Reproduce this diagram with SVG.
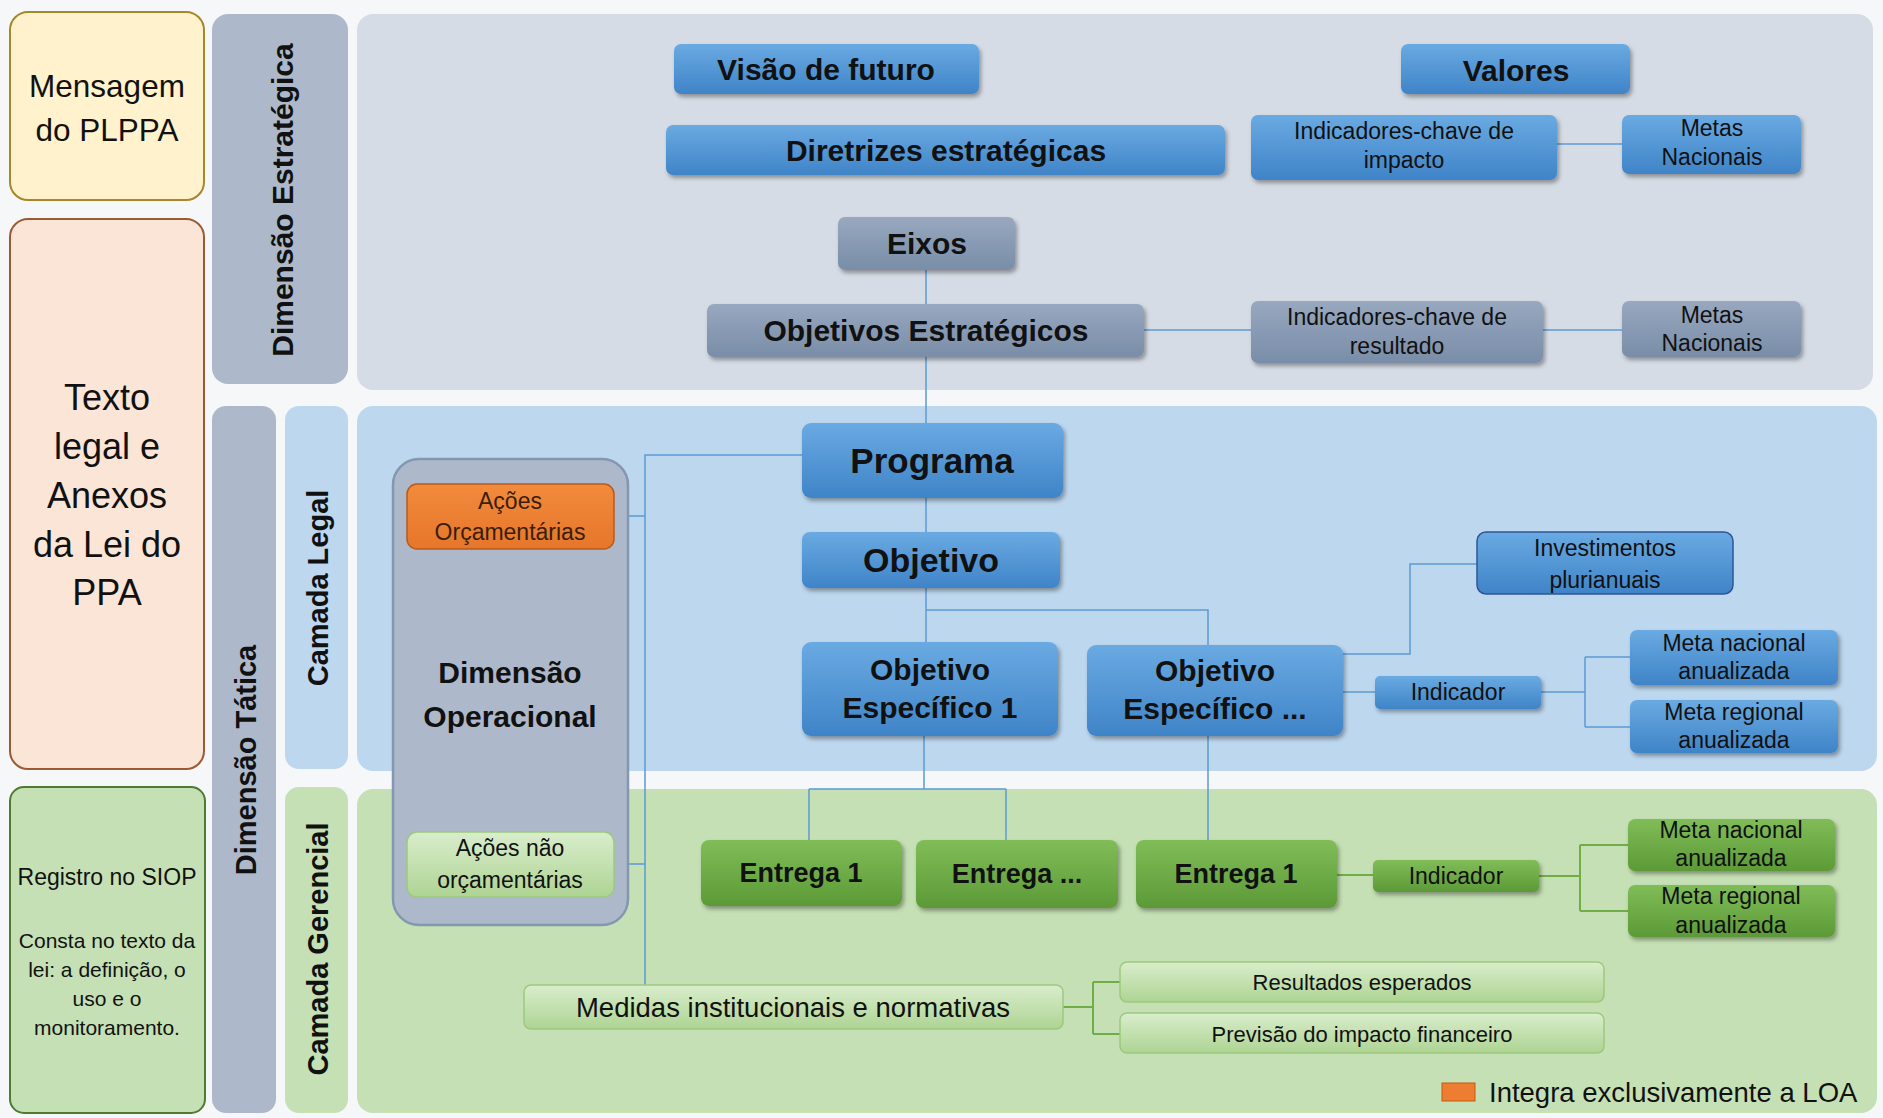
<svg xmlns="http://www.w3.org/2000/svg" width="1883" height="1118" viewBox="0 0 1883 1118">
<defs>
<linearGradient id="gBlue" x1="0" y1="0" x2="0" y2="1"><stop offset="0" stop-color="#6AAAE2"/><stop offset="1" stop-color="#3F84C8"/></linearGradient>
<linearGradient id="gGray" x1="0" y1="0" x2="0" y2="1"><stop offset="0" stop-color="#97A8BF"/><stop offset="1" stop-color="#7A8DA8"/></linearGradient>
<linearGradient id="gGreen" x1="0" y1="0" x2="0" y2="1"><stop offset="0" stop-color="#80BD58"/><stop offset="1" stop-color="#5C9A37"/></linearGradient>
<linearGradient id="gLGreen" x1="0" y1="0" x2="0" y2="1"><stop offset="0" stop-color="#D9EDCC"/><stop offset="1" stop-color="#AED493"/></linearGradient>
<linearGradient id="gOrange" x1="0" y1="0" x2="0" y2="1"><stop offset="0" stop-color="#F28A3C"/><stop offset="1" stop-color="#E6762A"/></linearGradient>
<filter id="sh" x="-10%" y="-20%" width="120%" height="150%"><feDropShadow dx="2" dy="3" stdDeviation="2" flood-color="#000" flood-opacity="0.35"/></filter>
<style>
text{font-family:"Liberation Sans",Arial,sans-serif;fill:#111;text-anchor:middle;dominant-baseline:central}
.b{font-weight:bold}
.blue{fill:url(#gBlue);filter:url(#sh)}
.gray{fill:url(#gGray);filter:url(#sh)}
.green{fill:url(#gGreen);filter:url(#sh)}
.lgreen{fill:url(#gLGreen);stroke:#9CC97F;stroke-width:1.5}
.cb{fill:none;stroke:#5B9BD5;stroke-width:1.5}
.cg{fill:none;stroke:#70AD47;stroke-width:2}
</style>
</defs>
<rect x="0" y="0" width="1883" height="1118" fill="#F6F7F8"/>

<!-- Left column -->
<g id="mensagem">
<rect x="10" y="12" width="194" height="188" rx="18" fill="#FFF2CC" stroke="#A8862A" stroke-width="2"/>
<text x="107" y="86" font-size="31.5">Mensagem</text>
<text x="107" y="130" font-size="31.5">do PLPPA</text>
</g>
<g id="texto-legal">
<rect x="10" y="219" width="194" height="550" rx="18" fill="#FBE5D6" stroke="#9C5A32" stroke-width="2"/>
<text x="107" y="397" font-size="36">Texto</text>
<text x="107" y="446" font-size="36">legal e</text>
<text x="107" y="495" font-size="36">Anexos</text>
<text x="107" y="544" font-size="36">da Lei do</text>
<text x="107" y="592" font-size="36">PPA</text>
</g>
<g id="registro-siop">
<rect x="10" y="787" width="195" height="326" rx="14" fill="#C5E0B4" stroke="#4E7A34" stroke-width="2"/>
<text x="107" y="877" font-size="23">Registro no SIOP</text>
<text x="107" y="940" font-size="21">Consta no texto da</text>
<text x="107" y="969" font-size="21">lei: a definição, o</text>
<text x="107" y="998" font-size="21">uso e o</text>
<text x="107" y="1027" font-size="21">monitoramento.</text>
</g>

<!-- Bands and panels -->
<g id="dim-estrategica">
<rect x="212" y="14" width="136" height="370" rx="16" fill="#ADB9CA"/>
<text class="b" font-size="30" transform="translate(282 200) rotate(-90)">Dimensão Estratégica</text>
</g>
<g id="painel-estrategico"><rect x="357" y="14" width="1516" height="376" rx="16" fill="#D6DCE5"/></g>
<g id="dim-tatica">
<rect x="212" y="406" width="64" height="707" rx="14" fill="#ADB9CA"/>
<text class="b" font-size="29" transform="translate(246 760) rotate(-90)">Dimensão Tática</text>
</g>
<g id="camada-legal">
<rect x="285" y="406" width="63" height="363" rx="14" fill="#BDD7EE"/>
<text class="b" font-size="29" transform="translate(318 588) rotate(-90)">Camada Legal</text>
</g>
<g id="painel-legal"><rect x="357" y="406" width="1520" height="365" rx="16" fill="#BDD7EE"/></g>
<g id="camada-gerencial">
<rect x="285" y="787" width="63" height="326" rx="14" fill="#C5E0B4"/>
<text class="b" font-size="29" transform="translate(318 949) rotate(-90)">Camada Gerencial</text>
</g>
<g id="painel-gerencial"><rect x="357" y="789" width="1520" height="324" rx="16" fill="#C5E0B4"/></g>

<!-- Connectors -->
<g id="connectors">
<path class="cb" d="M1557 144H1622"/>
<path class="cb" d="M926 270V304"/>
<path class="cb" d="M1144 330H1251M1543 330H1622"/>
<path class="cb" d="M926 357V423M926 498V532M926 588V642"/>
<path class="cb" d="M926 610H1208V645"/>
<path class="cb" d="M1343 654H1410V564H1477"/>
<path class="cb" d="M1343 692H1375"/>
<path class="cb" d="M1541 692H1585M1585 657V727M1585 657H1630M1585 727H1630"/>
<path class="cb" d="M802 455H645V985M614 516H645M614 864H645"/>
<path class="cb" d="M924 736V789M809 789H1006M809 789V840M1006 789V840"/>
<path class="cb" d="M1208 736V840"/>
<path class="cg" d="M1337 875H1373"/>
<path class="cg" d="M1539 876H1580M1580 845V911M1580 845H1628M1580 911H1628"/>
<path class="cg" d="M1063 1007H1093M1093 982V1034M1093 982H1120M1093 1034H1120"/>
</g>

<!-- Dimensão Operacional -->
<g id="dim-operacional">
<rect x="393" y="459" width="235" height="466" rx="26" fill="#ADB9CA" stroke="#8497B0" stroke-width="2.5"/>
<text class="b" x="510" y="672" font-size="30">Dimensão</text>
<text class="b" x="510" y="716" font-size="30">Operacional</text>
</g>
<g id="acoes-orcamentarias">
<rect x="407" y="484" width="207" height="65" rx="10" fill="url(#gOrange)" stroke="#B85A1C" stroke-width="1.5"/>
<text x="510" y="501" font-size="23" style="fill:#3A1E0A">Ações</text>
<text x="510" y="532" font-size="23" style="fill:#3A1E0A">Orçamentárias</text>
</g>
<g id="acoes-nao-orcamentarias">
<rect class="lgreen" x="407" y="832" width="207" height="65" rx="10"/>
<text x="510" y="848" font-size="23">Ações não</text>
<text x="510" y="880" font-size="23">orçamentárias</text>
</g>

<!-- Strategic nodes -->
<g id="visao">
<rect class="blue" x="674" y="44" width="305" height="50" rx="7"/>
<text class="b" x="826" y="69" font-size="30">Visão de futuro</text>
</g>
<g id="valores">
<rect class="blue" x="1401" y="44" width="229" height="50" rx="7"/>
<text class="b" x="1516" y="70" font-size="30">Valores</text>
</g>
<g id="diretrizes">
<rect class="blue" x="666" y="125" width="559" height="50" rx="7"/>
<text class="b" x="946" y="150" font-size="30">Diretrizes estratégicas</text>
</g>
<g id="ind-impacto">
<rect class="blue" x="1251" y="115" width="306" height="65" rx="7"/>
<text x="1404" y="131" font-size="23">Indicadores-chave de</text>
<text x="1404" y="160" font-size="23">impacto</text>
</g>
<g id="metas-nacionais-1">
<rect class="blue" x="1622" y="115" width="179" height="59" rx="7"/>
<text x="1712" y="128" font-size="23">Metas</text>
<text x="1712" y="157" font-size="23">Nacionais</text>
</g>
<g id="eixos">
<rect class="gray" x="838" y="217" width="177" height="53" rx="7"/>
<text class="b" x="927" y="243" font-size="30">Eixos</text>
</g>
<g id="objetivos-estrategicos">
<rect class="gray" x="707" y="304" width="437" height="53" rx="7"/>
<text class="b" x="926" y="330" font-size="30">Objetivos Estratégicos</text>
</g>
<g id="ind-resultado">
<rect class="gray" x="1251" y="301" width="292" height="62" rx="7"/>
<text x="1397" y="317" font-size="23">Indicadores-chave de</text>
<text x="1397" y="346" font-size="23">resultado</text>
</g>
<g id="metas-nacionais-2">
<rect class="gray" x="1622" y="301" width="179" height="56" rx="7"/>
<text x="1712" y="315" font-size="23">Metas</text>
<text x="1712" y="343" font-size="23">Nacionais</text>
</g>

<!-- Legal nodes -->
<g id="programa">
<rect class="blue" x="802" y="423" width="261" height="75" rx="9"/>
<text class="b" x="932" y="460" font-size="35">Programa</text>
</g>
<g id="objetivo">
<rect class="blue" x="802" y="532" width="258" height="56" rx="8"/>
<text class="b" x="931" y="560" font-size="34">Objetivo</text>
</g>
<g id="oe1">
<rect class="blue" x="802" y="642" width="256" height="94" rx="9"/>
<text class="b" x="930" y="669" font-size="30">Objetivo</text>
<text class="b" x="930" y="707" font-size="30">Específico 1</text>
</g>
<g id="oe-n">
<rect class="blue" x="1087" y="645" width="256" height="91" rx="9"/>
<text class="b" x="1215" y="670" font-size="30">Objetivo</text>
<text class="b" x="1215" y="708" font-size="30">Específico ...</text>
</g>
<g id="investimentos">
<rect x="1477" y="532" width="256" height="62" rx="9" fill="url(#gBlue)" stroke="#2F5597" stroke-width="1.5"/>
<text x="1605" y="548" font-size="23">Investimentos</text>
<text x="1605" y="580" font-size="23">plurianuais</text>
</g>
<g id="indicador-legal">
<rect class="blue" x="1375" y="676" width="166" height="33" rx="5"/>
<text x="1458" y="692" font-size="23">Indicador</text>
</g>
<g id="meta-nacional-legal">
<rect class="blue" x="1630" y="630" width="208" height="55" rx="7"/>
<text x="1734" y="643" font-size="23">Meta nacional</text>
<text x="1734" y="671" font-size="23">anualizada</text>
</g>
<g id="meta-regional-legal">
<rect class="blue" x="1630" y="700" width="208" height="53" rx="7"/>
<text x="1734" y="712" font-size="23">Meta regional</text>
<text x="1734" y="740" font-size="23">anualizada</text>
</g>

<!-- Gerencial nodes -->
<g id="entrega-1a">
<rect class="green" x="701" y="840" width="201" height="66" rx="8"/>
<text class="b" x="801" y="873" font-size="27">Entrega 1</text>
</g>
<g id="entrega-n">
<rect class="green" x="916" y="840" width="202" height="68" rx="8"/>
<text class="b" x="1017" y="874" font-size="27">Entrega ...</text>
</g>
<g id="entrega-1b">
<rect class="green" x="1136" y="840" width="201" height="68" rx="8"/>
<text class="b" x="1236" y="874" font-size="27">Entrega 1</text>
</g>
<g id="indicador-gerencial">
<rect class="green" x="1373" y="860" width="166" height="32" rx="5"/>
<text x="1456" y="876" font-size="23">Indicador</text>
</g>
<g id="meta-nacional-ger">
<rect class="green" x="1628" y="819" width="207" height="52" rx="7"/>
<text x="1731" y="830" font-size="23">Meta nacional</text>
<text x="1731" y="858" font-size="23">anualizada</text>
</g>
<g id="meta-regional-ger">
<rect class="green" x="1628" y="885" width="207" height="52" rx="7"/>
<text x="1731" y="896" font-size="23">Meta regional</text>
<text x="1731" y="925" font-size="23">anualizada</text>
</g>
<g id="medidas">
<rect class="lgreen" x="524" y="985" width="539" height="44" rx="7"/>
<text x="793" y="1007" font-size="27.5">Medidas institucionais e normativas</text>
</g>
<g id="resultados">
<rect class="lgreen" x="1120" y="962" width="484" height="40" rx="7"/>
<text x="1362" y="982" font-size="22">Resultados esperados</text>
</g>
<g id="previsao">
<rect class="lgreen" x="1120" y="1013" width="484" height="40" rx="7"/>
<text x="1362" y="1034" font-size="22">Previsão do impacto financeiro</text>
</g>

<!-- Legend -->
<g id="legenda">
<rect x="1442" y="1083" width="33" height="18" fill="#ED7D31" stroke="#C55A11" stroke-width="1"/>
<text x="1489" y="1092" font-size="27.5" style="text-anchor:start">Integra exclusivamente a LOA</text>
</g>
</svg>
